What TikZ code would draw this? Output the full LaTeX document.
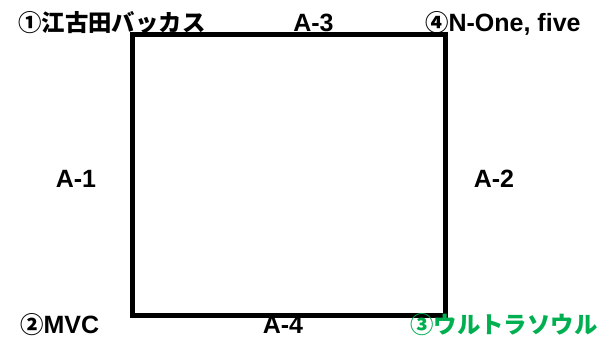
\documentclass[tikz,border=0pt]{standalone}
\usepackage{fontspec}
\setmainfont{Liberation Sans}
\newfontfamily\jp{Noto Sans CJK JP}
\definecolor{lblgreen}{RGB}{0,176,80}
\begin{document}
\begin{tikzpicture}[x=1pt,y=-1pt,
  lbl/.style={inner sep=0pt,font=\fontsize{25}{25}\selectfont\bfseries},
  box/.style={draw,line width=5pt,inner sep=0pt,minimum width=313.5pt,minimum height=281.5pt}]
\newcommand\jpt[1]{{\jp\fontsize{23.4}{23.4}\selectfont\bfseries #1}}
\useasboundingbox (0,0) rectangle (607,348);
\node[box] (sq) at (288.75,174.75) {};
\node[lbl,anchor=base west] (t1) at (18,31) {\jpt{①江古田バッカス}};
\node[lbl,anchor=base] (a3) at (313.5,31) {A-3};
\node[lbl,anchor=base west] (t4) at (425,31) {\jpt{④}N-One, five};
\node[lbl,anchor=base] (a1) at (76,187) {A-1};
\node[lbl,anchor=base] (a2) at (494,187) {A-2};
\node[lbl,anchor=base west] (t2) at (20,333) {\jpt{②}MVC};
\node[lbl,anchor=base] (a4) at (283,333) {A-4};
\node[lbl,anchor=base west,text=lblgreen] (t3) at (410,333) {\jpt{③ウルトラソウル}};
\end{tikzpicture}
\end{document}
